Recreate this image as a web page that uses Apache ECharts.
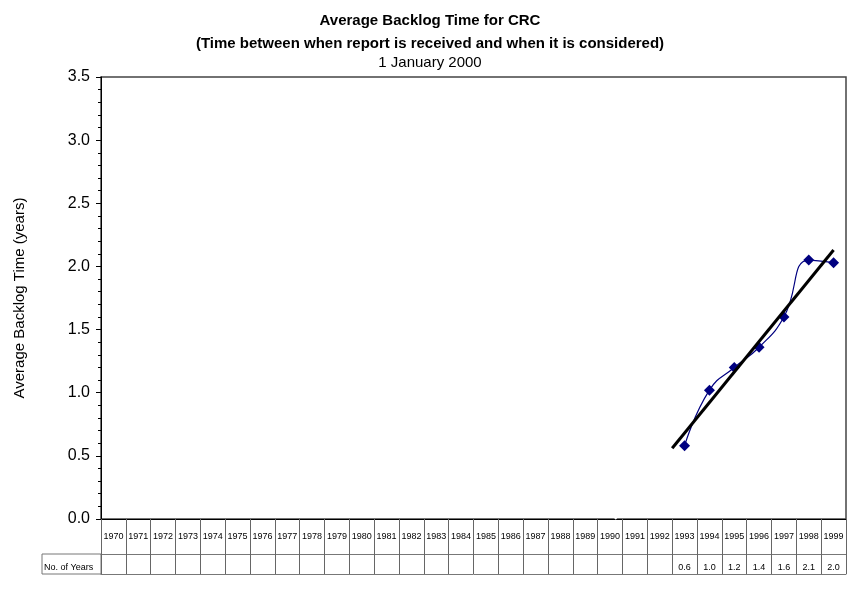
<!DOCTYPE html>
<html>
<head>
<meta charset="utf-8">
<script src="https://cdn.jsdelivr.net/npm/echarts@6/dist/echarts.min.js"></script>
<style>
  html, body { margin: 0; padding: 0; background: #fff; }
  #chart { width: 860px; height: 613px; }
</style>
</head>
<body>
<div id="chart"></div>
<script>
// years shown in the data table
var years = [];
for (var y = 1970; y <= 1999; y++) years.push(String(y));

// average backlog per year (years), only 1993-1999 reported
var backlog = [null, null, null, null, null, null, null, null, null, null,
               null, null, null, null, null, null, null, null, null, null,
               null, null, null, 0.58, 1.02, 1.20, 1.36, 1.60, 2.05, 2.03];

// values as printed in the "No. of Years" row
var tableLabels = ['', '', '', '', '', '', '', '', '', '',
                   '', '', '', '', '', '', '', '', '', '',
                   '', '', '', '0.6', '1.0', '1.2', '1.4', '1.6', '2.1', '2.0'];

// linear trend line (year, value)
var trendX = [1992.5, 1999];
var trendY = [0.56, 2.13];
// backward part of the trend, drawn in white
var trendBackX = [1990.2, 1992.5];
var trendBackY = [0, 0.56];

var yTicks = [0, 0.5, 1.0, 1.5, 2.0, 2.5, 3.0, 3.5];

var font = "'Liberation Sans', Arial, sans-serif";

var myChart = echarts.init(document.getElementById('chart'), null, { renderer: 'canvas' });

var option = {
    backgroundColor: '#fff',
    animation: false,
    title: [
        { text: 'Average Backlog Time for CRC', left: 'center', top: 8,
          textStyle: { fontFamily: font, fontSize: 15, fontWeight: 'bold', color: '#000' } },
        { text: '(Time between when report is received and when it is considered)', left: 'center', top: 31,
          textStyle: { fontFamily: font, fontSize: 15, fontWeight: 'bold', color: '#000' } },
        { text: '1 January 2000', left: 'center', top: 50,
          textStyle: { fontFamily: font, fontSize: 15, fontWeight: 'normal', color: '#000' } }
    ],
    grid: {
        left: 101, right: 14, top: 77, bottom: 94,
        show: true, borderColor: '#444', borderWidth: 1.5, backgroundColor: '#fff'
    },
    xAxis: [
        {
            type: 'category',
            data: years,
            boundaryGap: true,
            axisLine: { lineStyle: { color: '#000', width: 1 } },
            axisTick: { show: true, interval: 0, length: 35, lineStyle: { color: '#666' } },
            axisLabel: { interval: 0, margin: 13, fontFamily: font, fontSize: 9, color: '#000' },
            splitLine: { show: false }
        },
        {
            type: 'category',
            data: years,
            boundaryGap: true,
            position: 'bottom',
            offset: 35,
            axisLine: { lineStyle: { color: '#777', width: 1 } },
            axisTick: { show: true, interval: 0, length: 20, lineStyle: { color: '#666' } },
            axisLabel: {
                interval: 0, margin: 9, fontFamily: font, fontSize: 9, color: '#000',
                formatter: function (v, i) { return tableLabels[i]; }
            },
            splitLine: { show: false }
        },
        {
            type: 'category',
            data: years,
            position: 'bottom',
            offset: 55,
            axisLine: { lineStyle: { color: '#777', width: 1 } },
            axisTick: { show: false },
            axisLabel: { show: false }
        },
        {
            type: 'value',
            min: 1969.5,
            max: 1999.5,
            show: false
        }
    ],
    yAxis: {
        type: 'value',
        min: 0,
        max: 3.5,
        interval: 0.5,
        name: 'Average Backlog Time (years)',
        nameLocation: 'middle',
        nameGap: 74,
        nameRotate: 90,
        nameTextStyle: { fontFamily: font, fontSize: 15, color: '#000' },
        axisLine: { show: true, lineStyle: { color: '#000', width: 1 } },
        axisTick: { show: true, length: 5, lineStyle: { color: '#000' } },
        minorTick: { show: true, splitNumber: 5, length: 3, lineStyle: { color: '#000' } },
        splitLine: { show: false },
        axisLabel: {
            margin: 11, fontFamily: font, fontSize: 16, color: '#000',
            formatter: function (v) { return yTicks.indexOf(v) >= 0 ? v.toFixed(1) : ''; }
        }
    },
    series: [
        {
            name: 'Trend back',
            type: 'line',
            xAxisIndex: 3,
            data: trendBackX.map(function (x, i) { return [x, trendBackY[i]]; }),
            symbol: 'none',
            lineStyle: { color: '#fff', width: 2 },
            z: 3
        },
        {
            name: 'No. of Years',
            type: 'line',
            xAxisIndex: 0,
            data: backlog,
            smooth: 0.5,
            symbol: 'diamond',
            symbolSize: 11,
            itemStyle: { color: '#000080' },
            lineStyle: { color: '#000080', width: 1.2 },
            z: 4
        },
        {
            name: 'Trend',
            type: 'line',
            xAxisIndex: 3,
            data: trendX.map(function (x, i) { return [x, trendY[i]]; }),
            symbol: 'none',
            lineStyle: { color: '#000', width: 3 },
            z: 5
        }
    ],
    graphic: [
        {
            type: 'rect',
            shape: { x: 42, y: 554, width: 59, height: 20 },
            style: { fill: 'none', stroke: '#777', lineWidth: 1 }
        },
        {
            type: 'text',
            left: 44, top: 563,
            style: { text: 'No. of Years', font: '9px ' + font, fill: '#000' }
        }
    ]
};

myChart.setOption(option);
</script>
</body>
</html>
